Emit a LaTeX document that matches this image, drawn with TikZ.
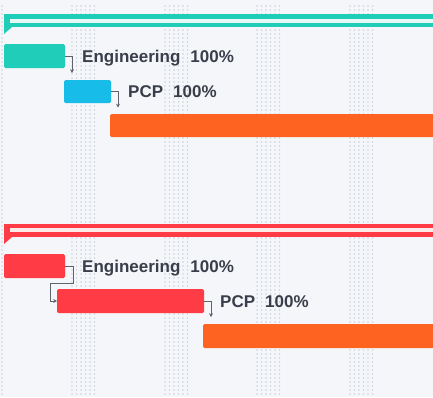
\documentclass[tikz,border=0pt]{standalone}
\usepackage{fontspec}
\setmainfont{Liberation Sans}
\usetikzlibrary{arrows.meta}
\definecolor{bgc}{HTML}{F4F6FA}
\definecolor{dotc}{HTML}{CDD2DA}
\definecolor{tealc}{HTML}{1FCDB8}
\definecolor{bluec}{HTML}{17BCE8}
\definecolor{orangec}{HTML}{FF6321}
\definecolor{redc}{HTML}{FF3B45}
\definecolor{txtc}{HTML}{3A3E4A}
\definecolor{conc}{HTML}{5F636D}
\definecolor{tealin}{HTML}{E6F8F5}
\definecolor{redin}{HTML}{FCE9EA}
\begin{document}
\begin{tikzpicture}[x=1pt,y=-1pt,
  bar/.style={rectangle,anchor=north west,inner sep=0pt,outer sep=0pt,rounded corners=1.5pt},
  lbl/.style={anchor=base west,inner sep=0pt,text=txtc,font=\fontsize{17}{20}\selectfont\bfseries},
  conn/.style={draw=conc,line width=1pt,-{Stealth[length=3.8pt,width=3.8pt]}}]
\useasboundingbox (0,0) rectangle (433,397);
\fill[bgc] (0,0) rectangle (433,397);
% dotted bands
\foreach \bx in {72,165,257,350}{
  \foreach \i in {0,...,5}{
    \foreach \j in {0,...,97}{
      \fill[dotc] (\bx+\i*4.5,6+\j*4) circle (0.8);
    }
  }
}
\foreach \j in {0,...,97}{ \fill[dotc] (2,6+\j*4) circle (0.8); }
% teal summary
\fill[tealc] (4,13.5) rectangle (433,27);
\fill[tealc] (4,27) -- (4,34) -- (12,27) -- cycle;
\fill[tealin] (10,18.5) rectangle (433,22.5);
% teal tasks
\node[bar,fill=tealc,minimum width=61pt,minimum height=24pt] (t1) at (4,44) {};
\node[bar,fill=bluec,minimum width=47pt,minimum height=23pt] (t2) at (64,80) {};
\node[bar,fill=orangec,minimum width=340pt,minimum height=23pt] (t3) at (110,114) {};
\node[lbl] (tl1) at (82,62.5) {Engineering\hspace{10pt}100\%};
\node[lbl] (tl2) at (128,97.7) {PCP\hspace{10pt}100\%};
\draw[conn] (t1.east) -- ++(7,0) -- ++(0,17);
\draw[conn] (t2.east) -- ++(7,0) -- ++(0,16);
% red summary
\fill[redc] (4,224) rectangle (433,237);
\fill[redc] (4,237) -- (4,244) -- (12,237) -- cycle;
\fill[redin] (10,228) rectangle (433,232);
% red tasks
\node[bar,fill=redc,minimum width=61pt,minimum height=24pt] (r1) at (4,254) {};
\node[bar,fill=redc,minimum width=147pt,minimum height=24pt] (r2) at (57,289) {};
\node[bar,fill=orangec,minimum width=250pt,minimum height=24pt] (r3) at (203,324) {};
\node[lbl] (rl1) at (82,272.7) {Engineering\hspace{10pt}100\%};
\node[lbl] (rl2) at (220,307.3) {PCP\hspace{10pt}100\%};
\draw[conn] (r1.east) -- ++(8,0) |- ([xshift=-7pt,yshift=18pt]r2.west) |- (r2.west);
\draw[conn] (r2.east) -- ++(7,0) -- ++(0,16);
\end{tikzpicture}
\end{document}
